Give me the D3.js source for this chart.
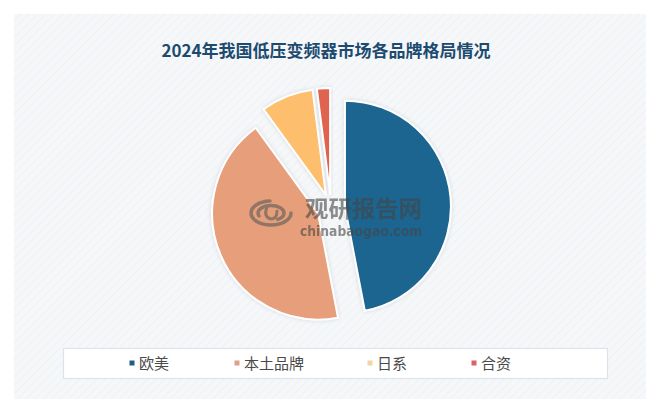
<!DOCTYPE html>
<html><head><meta charset="utf-8">
<script src="https://cdn.jsdelivr.net/npm/d3@7/dist/d3.min.js"></script>
<style>
html,body{margin:0;padding:0;background:#fff;}
svg{display:block;}
</style></head>
<body>
<svg id="c" width="660" height="413"></svg>
<script>
const categories = ["欧美", "本土品牌", "日系", "合资"];
const values = [47, 43, 8, 2];
const colors = ["#1b6591", "#e69f7a", "#fdbf6e", "#e0644f"];
const legendColors = ["#1e5f86", "#dca08c", "#f1d6a2", "#d9636b"];
const title = "2024年我国低压变频器市场各品牌格局情况";

const svg = d3.select("#c");
const W = 660, H = 413;

const defs = svg.append("defs");
const pat = defs.append("pattern").attr("id","bgp").attr("width",6).attr("height",6)
  .attr("patternUnits","userSpaceOnUse").attr("patternTransform","rotate(45)");
pat.append("rect").attr("width",6).attr("height",6).attr("fill","#f5f7f9");
pat.append("line").attr("x1",0).attr("y1",0).attr("x2",0).attr("y2",6).attr("stroke","#eef1f4").attr("stroke-width",1.5);
const sh = defs.append("filter").attr("id","sh").attr("x","-20%").attr("y","-20%").attr("width","140%").attr("height","140%");
sh.append("feDropShadow").attr("dx",0).attr("dy",0).attr("stdDeviation",2).attr("flood-color","#9aa6b2").attr("flood-opacity",0.35);

svg.append("rect").attr("width",W).attr("height",H).attr("fill","#ffffff");
svg.append("rect").attr("x",14).attr("y",14).attr("width",W-28).attr("height",H-28).attr("fill","url(#bgp)");

svg.append("text").attr("x",326).attr("y",57).attr("text-anchor","middle")
  .attr("font-family","'Noto Sans CJK SC', sans-serif").attr("font-weight","bold")
  .attr("font-size",17).attr("fill","#1d4b70").text(title);

const cx = 331, cy = 208, R = 106, off = 14;
const pie = d3.pie().sort(null).value(d => d)(values);
const arc = d3.arc().innerRadius(0).outerRadius(R);
const g = svg.append("g").attr("transform",`translate(${cx},${cy})`);
g.selectAll("path").data(pie).join("path")
  .attr("transform", d => {
    const a = (d.startAngle + d.endAngle)/2;
    return `translate(${off*Math.sin(a)},${-off*Math.cos(a)})`;
  })
  .attr("d", arc)
  .attr("fill",(d,i)=>colors[i])
  .attr("stroke","#ffffff").attr("stroke-width",2).attr("stroke-linejoin","round")
  .attr("filter","url(#sh)");

// watermark
const wm = svg.append("g").attr("opacity",0.6);
const lg = wm.append("g").attr("transform","translate(271,213)").attr("fill","none").attr("stroke","#5a5a5a").attr("stroke-linecap","round");
lg.append("ellipse").attr("rx",20).attr("ry",12).attr("stroke-width",3.5).attr("stroke-dasharray","75 30");
lg.append("ellipse").attr("rx",13).attr("ry",7.5).attr("stroke-width",3.5).attr("stroke-dasharray","42 20").attr("transform","rotate(180)");
lg.append("path").attr("d","M-4,-6 Q-8,4 0,6 Q6,6 6,-2").attr("stroke-width",3);
wm.append("text").attr("x",305).attr("y",217).attr("font-family","'Noto Sans CJK SC', sans-serif")
  .attr("font-weight","bold").attr("font-size",23).attr("fill","#454545")
  .attr("textLength",117).attr("lengthAdjust","spacingAndGlyphs").text("观研报告网");
wm.append("text").attr("x",300).attr("y",236).attr("font-family","'DejaVu Sans', sans-serif")
  .attr("font-weight","bold").attr("font-size",14).attr("fill","#454545")
  .attr("textLength",122).attr("lengthAdjust","spacingAndGlyphs").text("chinabaogao.com");

// legend
svg.append("rect").attr("x",63.5).attr("y",348.5).attr("width",544).attr("height",30)
  .attr("fill","#ffffff").attr("stroke","#dde3ea").attr("stroke-width",1.2);
const lx = [132, 237, 370, 474];
const leg = svg.append("g").selectAll("g").data(categories).join("g")
  .attr("transform",(d,i)=>`translate(${lx[i]},363)`);
leg.append("rect").attr("x",-2.5).attr("y",-2.5).attr("width",5).attr("height",5).attr("fill",(d,i)=>legendColors[i]);
leg.append("text").attr("x",7).attr("y",5.5).attr("font-family","'Noto Sans CJK SC', sans-serif")
  .attr("font-size",15).attr("fill","#4a4a4a").text(d=>d);
</script>
</body></html>
